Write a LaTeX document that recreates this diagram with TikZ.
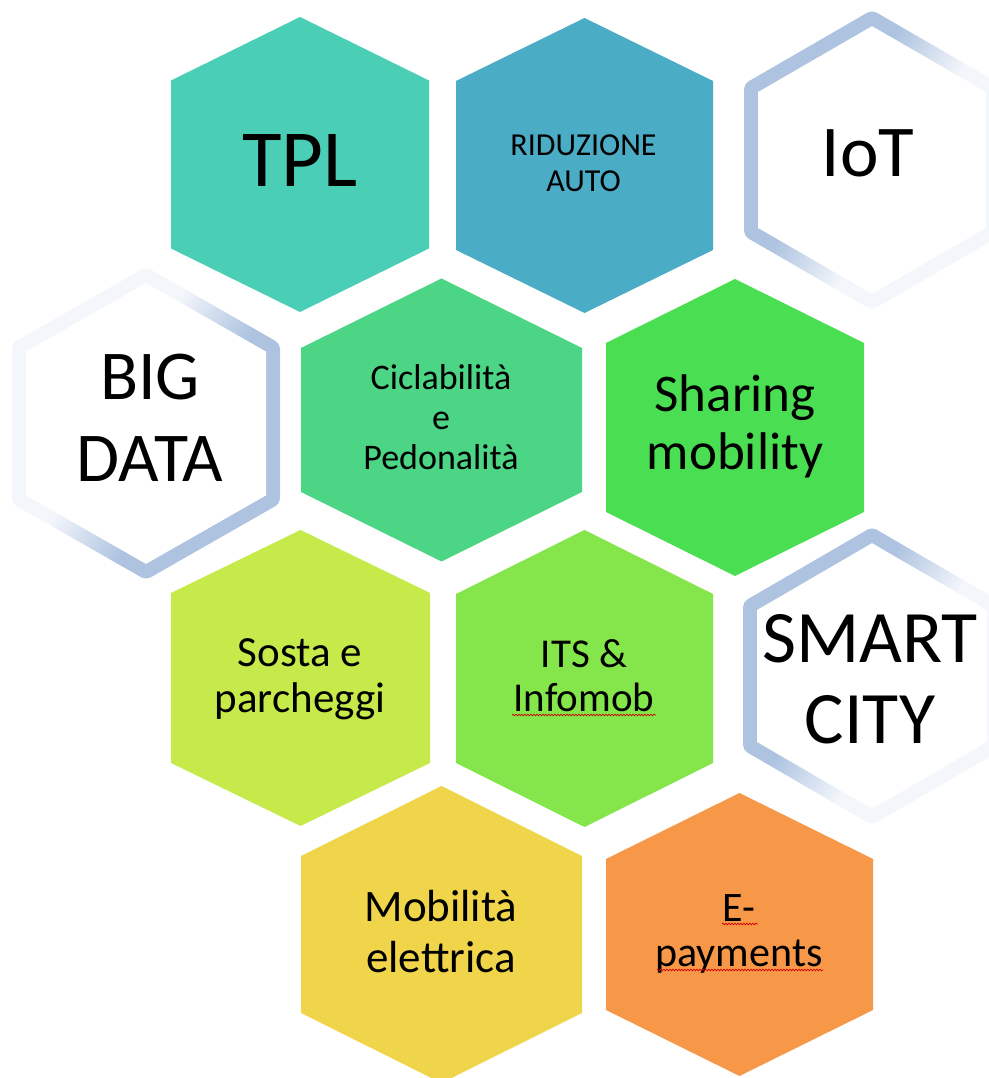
\documentclass[tikz,border=0pt]{standalone}
\usepackage{fontspec}
\setmainfont{Carlito}
\usetikzlibrary{decorations.pathmorphing}
\definecolor{hblue}{HTML}{ADC3E0}
\definecolor{hpale}{HTML}{F3F6FB}
\definecolor{cTPL}{HTML}{4ACEB6}
\definecolor{cRID}{HTML}{4BACC6}
\definecolor{cCIC}{HTML}{4CD585}
\definecolor{cSHA}{HTML}{4ADE52}
\definecolor{cSOS}{HTML}{C6EA4A}
\definecolor{cITS}{HTML}{84E64B}
\definecolor{cMOB}{HTML}{F0D54A}
\definecolor{cEPA}{HTML}{F79748}
\pgfdeclareverticalshading{hexfade}{100bp}{color(0bp)=(hpale); color(44bp)=(hpale); color(58bp)=(hblue); color(100bp)=(hblue)}
\tikzset{
  pics/colhex/.style args={#1/#2/#3/#4}{code={
    \fill[#4] (0,#3) -- (#1,#2) -- (#1,-#2) -- (0,-#3) -- (-#1,-#2) -- (-#1,#2) -- cycle;}},
  pics/ringhex/.style args={#1/#2/#3/#4}{code={
    \pgfmathsetmacro\hxw{#1-14}
    \pgfmathsetmacro\hxt{#3-14*sqrt(1+((#3-#2)/(#1))^2)}
    \pgfmathsetmacro\hxs{\hxt-(#3-#2)/(#1)*\hxw}
    \shade[shading=hexfade, shading angle=#4, rounded corners=5pt]
      (0,#3) -- (#1,#2) -- (#1,-#2) -- (0,-#3) -- (-#1,-#2) -- (-#1,#2) -- cycle;
    \fill[white] (0,\hxt) -- (\hxw,\hxs) -- (\hxw,-\hxs) -- (0,-\hxt) -- (-\hxw,-\hxs) -- (-\hxw,\hxs) -- cycle;}},
  lbl/.style={align=center, anchor=base, text=black, inner sep=0pt},
  spell/.style={draw=red!80!black, line width=0.7pt, decorate,
    decoration={snake, amplitude=0.8pt, segment length=3pt}}
}
\begin{document}
\begin{tikzpicture}[x=1pt, y=1pt]
\useasboundingbox (0,0) rectangle (988,1078);
\fill[white] (0,0) rectangle (988,1078);
% white ring hexagons
\pic at (872,918) {ringhex=128/76/150/60};
\pic at (146,654.5) {ringhex=134/80/156.5/240};
\pic at (872,402) {ringhex=129/74/149/60};
% coloured hexagons
\pic at (300,913.5) {colhex=129/84/147.5/cTPL};
\pic at (584.5,912.5) {colhex=128.5/84.5/147.5/cRID};
\pic at (441.5,658) {colhex=140.5/72/141.5/cCIC};
\pic at (735,650.5) {colhex=129/84.5/148.5/cSHA};
\pic at (300.5,400) {colhex=129.5/85/148/cSOS};
\pic at (584.5,399.5) {colhex=128.5/84.5/148.5/cITS};
\pic at (441.5,143.5) {colhex=140.5/78.5/148.5/cMOB};
\pic at (739.5,143.5) {colhex=133.5/75.5/141.5/cEPA};
% labels (anchor = baseline of the last line)
\node[lbl, font=\fontsize{81}{97}\selectfont] (tpl) at (300,891) {TPL};
\node[lbl, font=\fontsize{32}{36}\selectfont] (rid) at (583.5,886) {RIDUZIONE\\AUTO};
\node[lbl, font=\fontsize{73}{88}\selectfont] (iot) at (868,901) {IoT};
\node[lbl, font=\fontsize{70}{82}\selectfont] (big) at (150,596) {BIG\\DATA};
\node[lbl, font=\fontsize{36}{40}\selectfont] (cic) at (441,608) {Ciclabilità\\e\\Pedonalità};
\node[lbl, font=\fontsize{53}{58}\selectfont] (sha) at (735,608) {Sharing\\mobility};
\node[lbl, font=\fontsize{43}{46}\selectfont] (sos) at (300,365) {Sosta e\\parcheggi};
\node[lbl, font=\fontsize{41}{44}\selectfont] (its) at (584,366) {ITS \&\\Infomob};
\node[lbl, font=\fontsize{74}{81}\selectfont] (smc) at (870,334) {SMART\\CITY};
\node[lbl, font=\fontsize{45}{51}\selectfont] (mob) at (441,105) {Mobilità\\elettrica};
\node[lbl, font=\fontsize{42}{45}\selectfont] (epa) at (739,111) {E-\\payments};
% spell-check underlines
\coordinate (u1a) at (512,363); \coordinate (u1b) at (656,363);
\coordinate (u2a) at (722,154); \coordinate (u2b) at (758,154);
\coordinate (u3a) at (657,108); \coordinate (u3b) at (823,108);
\draw[spell] (u1a) -- (u1b);
\draw[spell] (u2a) -- (u2b);
\draw[spell] (u3a) -- (u3b);
\end{tikzpicture}
\end{document}
